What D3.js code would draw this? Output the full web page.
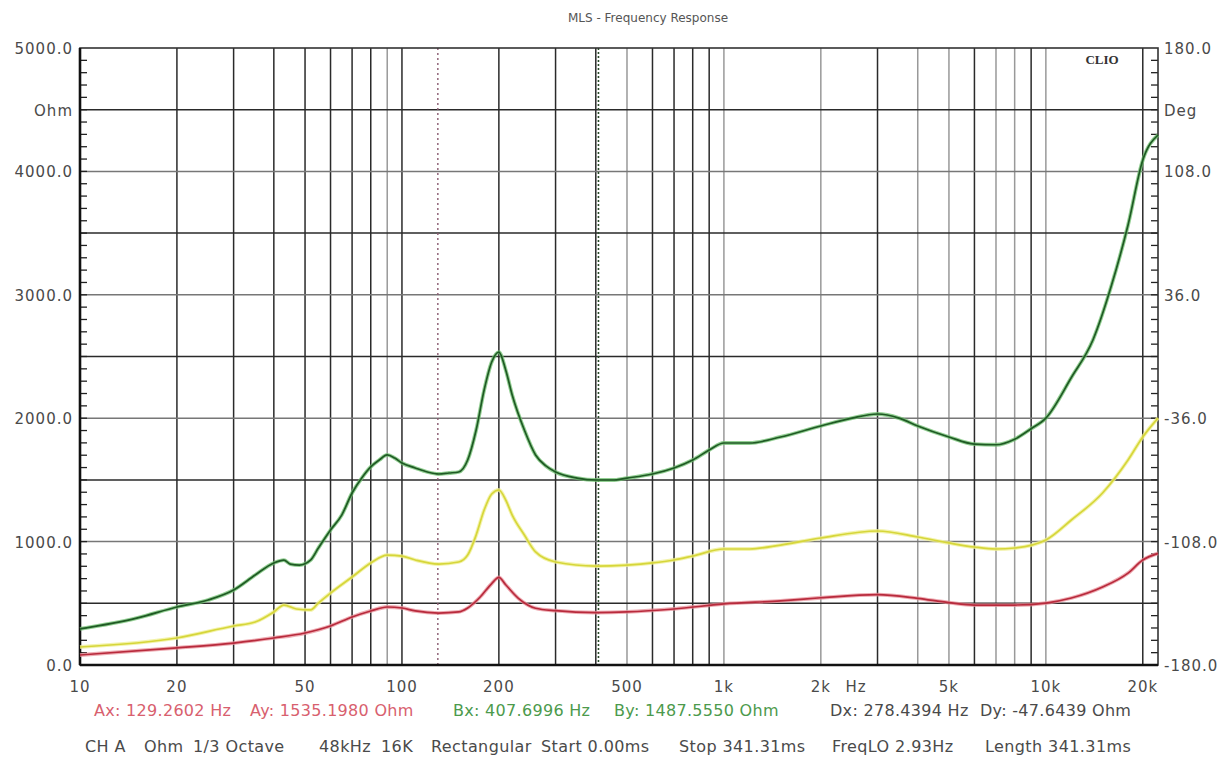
<!DOCTYPE html>
<html>
<head>
<meta charset="utf-8">
<script src="https://cdn.jsdelivr.net/npm/d3@7"></script>
<style>
  body { margin: 0; background: #fff; }
  text { font-family: "DejaVu Sans", "Liberation Sans", sans-serif; }
</style>
</head>
<body>
<script>
// frequency points (Hz) and the three traces (left axis units)
var greenFreq = [10,15,20,25,30,35,40,43,45,48,52,55,60,65,70,75,80,85,90,95,100,110,120,130,140,150,160,170,180,190,200,210,220,240,260,280,300,350,400,450,500,600,700,800,900,1000,1200,1500,2000,2500,3000,3500,4000,5000,6000,7000,8000,9000,10000,12000,14000,16000,18000,20000,22300];
var greenVals = [292,380,470,527,608,729,827,850,818,810,850,948,1094,1215,1394,1515,1605,1661,1702,1677,1637,1597,1564,1548,1556,1564,1661,1904,2228,2455,2536,2391,2188,1904,1702,1613,1564,1515,1499,1499,1515,1548,1597,1661,1742,1799,1799,1848,1937,2001,2034,2001,1937,1848,1790,1785,1830,1915,2001,2330,2634,3079,3566,4092,4295];

var yellowFreq = [10,20,30,35,40,43,47,52,55,60,70,80,90,100,110,130,150,160,170,180,190,200,210,220,240,260,300,400,500,600,700,800,1000,1200,1500,2000,3000,4000,5000,6000,7000,8000,10000,12000,15000,18000,20000,22300];
var yellowVals = [146,219,316,348,430,486,454,446,502,583,713,827,891,883,851,818,835,891,1053,1256,1386,1418,1337,1215,1053,916,835,802,810,827,851,883,940,940,972,1029,1086,1037,989,956,940,948,1013,1175,1394,1661,1848,2001];

var redFreq = [10,20,30,40,50,60,70,80,90,100,110,130,150,160,175,190,200,210,230,260,300,400,500,700,1000,1500,2000,3000,4000,5000,6000,8000,10000,12000,15000,18000,20000,22300];
var redVals = [81,138,178,219,259,316,389,438,470,462,438,421,430,462,551,660,710,650,540,460,440,425,430,454,495,520,545,570,540,505,486,486,502,543,632,745,851,905];

var xTickVals = [10,20,50,100,200,500,1000,2000,5000,10000,20000];
var xTickText = ["10","20","50","100","200","500","1k","2k","5k","10k","20k"];
var leftTickVals = [0,1000,2000,3000,4000,4500,5000];
var leftTickText = ["0.0","1000.0","2000.0","3000.0","4000.0","Ohm","5000.0"];
var rightTickVals = [-180,-108,-36,36,108,144,180];
var rightTickText = ["-180.0","-108.0","-36.0","36.0","108.0","Deg","180.0"];
var lightGrid = [90,500,1000,2000,4000,5000,7000,8000,10000];
var cursorA = 129.2602, cursorB = 407.6996;

var W = 1231, H = 760;
var pL = 80, pR = 1158, pT = 48, pB = 665;

var svg = d3.select("body").append("svg").attr("width", W).attr("height", H);

var x = d3.scaleLog().domain([10, 22300]).range([pL, pR]);
var y = d3.scaleLinear().domain([0, 5000]).range([pB, pT]);
var yDeg = d3.scaleLinear().domain([-180, 180]).range([pB, pT]);

// title
svg.append("text").attr("x", 648).attr("y", 22).attr("text-anchor", "middle")
   .style("font-size", "12px").style("fill", "#555").text("MLS - Frequency Response");

// vertical grid: every 1..9 per decade
var gridF = [];
[10,100,1000,10000].forEach(function(d){
  for (var m = 1; m < 10; m++) { var f = d*m; if (f > 10 && f <= 20000) gridF.push(f); }
});
svg.append("g").selectAll("line").data(gridF).enter().append("line")
   .attr("x1", function(d){ return x(d); }).attr("x2", function(d){ return x(d); })
   .attr("y1", pT).attr("y2", pB)
   .style("stroke", function(d){ return lightGrid.indexOf(d) >= 0 ? "#999" : "#2a2a2a"; })
   .style("stroke-width", 1.5);

// horizontal grid every 500
svg.append("g").selectAll("line").data(d3.range(500, 5000, 500)).enter().append("line")
   .attr("x1", pL).attr("x2", pR)
   .attr("y1", function(d){ return y(d); }).attr("y2", function(d){ return y(d); })
   .style("stroke", function(d){ return d % 1000 == 0 ? "#777" : "#2a2a2a"; })
   .style("stroke-width", 1.5);

// cursors
svg.append("line").attr("x1", x(cursorA)).attr("x2", x(cursorA)).attr("y1", pT).attr("y2", pB)
   .style("stroke", "#8a5a70").style("stroke-width", 1.4).style("stroke-dasharray", "2,3");
svg.append("line").attr("x1", x(cursorB)).attr("x2", x(cursorB)).attr("y1", pT).attr("y2", pB)
   .style("stroke", "#2a4a2a").style("stroke-width", 1.6).style("stroke-dasharray", "2,2");

// minor ticks inside left and right edges
var minor = d3.range(100, 5000, 100);
svg.append("g").selectAll("line").data(minor).enter().append("line")
   .attr("x1", pL).attr("x2", pL + 7)
   .attr("y1", function(d){ return y(d); }).attr("y2", function(d){ return y(d); })
   .style("stroke", "#222").style("stroke-width", 1.3);
svg.append("g").selectAll("line").data(minor).enter().append("line")
   .attr("x1", pR - 7).attr("x2", pR)
   .attr("y1", function(d){ return y(d); }).attr("y2", function(d){ return y(d); })
   .style("stroke", "#222").style("stroke-width", 1.3);

// frame
svg.append("rect").attr("x", pL).attr("y", pT).attr("width", pR - pL).attr("height", pB - pT)
   .style("fill", "none").style("stroke", "#333").style("stroke-width", 1.6);
svg.append("line").attr("x1", pL).attr("x2", pL).attr("y1", pT).attr("y2", pB)
   .style("stroke", "#111").style("stroke-width", 2.6);
svg.append("line").attr("x1", pL).attr("x2", pR).attr("y1", pB).attr("y2", pB)
   .style("stroke", "#111").style("stroke-width", 2.6);

// traces
var line = d3.line().x(function(d){ return x(d[0]); }).y(function(d){ return y(d[1]); }).curve(d3.curveMonotoneX);
function trace(freq, vals, halo, core) {
  var pts = d3.zip(freq, vals);
  svg.append("path").datum(pts).attr("d", line)
     .style("fill", "none").style("stroke", halo).style("stroke-width", 3.8).style("opacity", 0.75);
  svg.append("path").datum(pts).attr("d", line)
     .style("fill", "none").style("stroke", core).style("stroke-width", 1.7);
}
trace(greenFreq, greenVals, "#6fbf6f", "#1f5a24");
trace(yellowFreq, yellowVals, "#efef90", "#d6d63a");
trace(redFreq, redVals, "#e8909a", "#b82a3c");

// axes labels
var lab = svg.append("g").style("font-size", "15px").style("fill", "#4a4a4a").style("letter-spacing", "1px");
lab.selectAll(".lt").data(leftTickVals).enter().append("text")
   .attr("x", pL - 7).attr("y", function(d){ return y(d) + 6; }).attr("text-anchor", "end")
   .text(function(d, i){ return leftTickText[i]; });
lab.selectAll(".rt").data(rightTickVals).enter().append("text")
   .attr("x", pR + 6).attr("y", function(d){ return yDeg(d) + 6; })
   .text(function(d, i){ return rightTickText[i]; });
lab.selectAll(".xt").data(xTickVals).enter().append("text")
   .attr("x", function(d){ return x(d); }).attr("y", 692).attr("text-anchor", "middle")
   .text(function(d, i){ return xTickText[i]; });
lab.append("text").attr("x", 856).attr("y", 692).attr("text-anchor", "middle").text("Hz");

// CLIO mark
svg.append("text").attr("x", 1102).attr("y", 64).attr("text-anchor", "middle")
   .style("font-family", "'Liberation Serif', serif").style("font-weight", "bold")
   .style("font-size", "13px").style("fill", "#333").text("CLIO");

// cursor readouts
var readouts = [
  {x: 94,  t: "Ax: 129.2602 Hz",   c: "#d8606e"},
  {x: 250, t: "Ay: 1535.1980 Ohm", c: "#d8606e"},
  {x: 453, t: "Bx: 407.6996 Hz",   c: "#4c9a4c"},
  {x: 614, t: "By: 1487.5550 Ohm", c: "#4c9a4c"},
  {x: 830, t: "Dx: 278.4394 Hz",   c: "#4a4a4a"},
  {x: 980, t: "Dy: -47.6439 Ohm",  c: "#4a4a4a"}
];
svg.append("g").style("font-size", "16px").style("letter-spacing", "0.3px")
   .selectAll("text").data(readouts).enter().append("text")
   .attr("x", function(d){ return d.x; }).attr("y", 716)
   .style("fill", function(d){ return d.c; }).text(function(d){ return d.t; });

// footer
var footer = [
  {x: 85,  t: "CH A"}, {x: 144, t: "Ohm"}, {x: 193, t: "1/3 Octave"}, {x: 319, t: "48kHz"},
  {x: 381, t: "16K"}, {x: 431, t: "Rectangular"}, {x: 541, t: "Start 0.00ms"},
  {x: 679, t: "Stop 341.31ms"}, {x: 832, t: "FreqLO 2.93Hz"}, {x: 985, t: "Length 341.31ms"}
];
svg.append("g").style("font-size", "16px").style("fill", "#4a4a4a").style("letter-spacing", "0.4px")
   .selectAll("text").data(footer).enter().append("text")
   .attr("x", function(d){ return d.x; }).attr("y", 752).text(function(d){ return d.t; });
</script>
</body>
</html>
